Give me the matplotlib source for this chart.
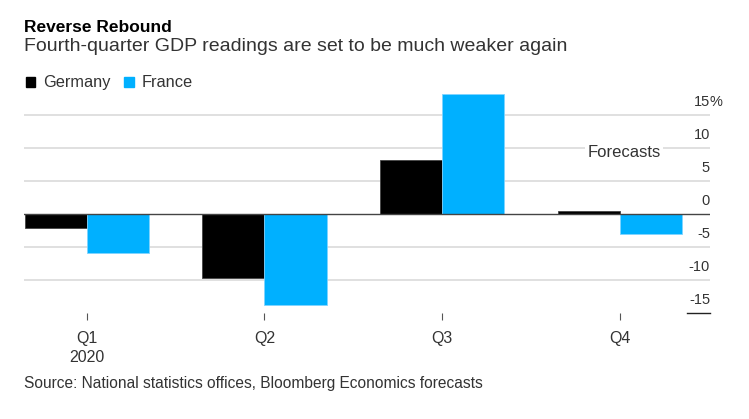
import matplotlib
matplotlib.use("Agg")
import matplotlib.pyplot as plt
import matplotlib.transforms as mtransforms
import numpy as np

plt.rcParams['font.family'] = ['Liberation Sans', 'DejaVu Sans']

quarters = ["Q1\n2020", "Q2", "Q3", "Q4"]
germany = [-2.0, -9.7, 8.2, 0.5]
france = [-5.9, -13.7, 18.2, -3.0]
ytick_vals = [15, 10, 5, 0, -5, -10, -15]
ytick_labels = ["15", "10", "5", "0", "-5", "-10", "-15"]
series_names = ["Germany", "France"]
colors = ["#000000", "#00B0FF"]

fig = plt.figure(figsize=(7.49, 4.19), dpi=100)
W, H = 749, 419
ax = fig.add_axes([24 / W, 0.2523, (710 - 24) / W, 0.7783 - 0.2523])

x = np.arange(len(quarters))
bw = 0.349
ax.bar(x - bw / 2, germany, width=bw, color=colors[0], edgecolor="#444444", linewidth=0.6, zorder=3, clip_on=False)
ax.bar(x + bw / 2, france, width=bw, color=colors[1], edgecolor="#7fd4ff", linewidth=0.6, zorder=3, clip_on=False)

ax.set_xlim(-0.3527, 3.506)
ax.set_ylim(-15, 18.4)

# gridlines
for v in ytick_vals:
    if v == 0:
        ax.axhline(0, color="#444444", lw=1.0, zorder=4)
    elif v == -15:
        ax.axhline(v, xmin=0.966, xmax=1.0, color="#222222", lw=1.0, zorder=1, clip_on=False)
    else:
        ax.axhline(v, color="#e0e0e0", lw=1.4, zorder=1)

# y labels on the right, above gridlines
trans = mtransforms.blended_transform_factory(ax.transAxes, ax.transData)
for v, lab in zip(ytick_vals, ytick_labels):
    ax.text(1.0, v + 1.45, lab, transform=trans, ha="right", va="baseline",
            fontsize=10.5, color="#333333", zorder=5)
    if v == 15:
        ax.text(1.0, v + 1.45, "%", transform=trans, ha="left", va="baseline",
                fontsize=10.5, color="#333333", zorder=5)

for s in ax.spines.values():
    s.set_visible(False)
ax.set_yticks([])
ax.set_xticks(x)
ax.set_xticklabels(quarters, fontsize=11.5, color="#333333", linespacing=1.3)
ax.tick_params(axis="x", length=5, width=0.8, color="#555555", pad=8)

ax.text(3.022, 9.3, "Forecasts", ha="center", va="center", fontsize=12, color="#333333",
        zorder=6, bbox=dict(facecolor="white", edgecolor="none", pad=1.5))

# titles
fig.text(24 / W, 1 - 32 / H, "Reverse Rebound", fontsize=12.5, fontweight="bold",
         color="#000000", ha="left", va="baseline")
fig.text(24 / W, 1 - 51 / H, "Fourth-quarter GDP readings are set to be much weaker again",
         fontsize=14, color="#333333", ha="left", va="baseline")

# legend
fig.patches.append(plt.Rectangle((26 / W, 1 - 87 / H), 9 / W, 10 / H, color=colors[0],
                                 transform=fig.transFigure, figure=fig))
fig.text(43 / W, 1 - 87 / H, series_names[0], fontsize=11.8, color="#333333", ha="left", va="baseline")
fig.patches.append(plt.Rectangle((124 / W, 1 - 87 / H), 10 / W, 10 / H, color=colors[1],
                                 transform=fig.transFigure, figure=fig))
fig.text(142 / W, 1 - 87 / H, series_names[1], fontsize=11.8, color="#333333", ha="left", va="baseline")

fig.text(24 / W, 1 - 388 / H, "Source: National statistics offices, Bloomberg Economics forecasts",
         fontsize=11.2, color="#333333", ha="left", va="baseline")

fig.savefig("out.png", dpi=100)
